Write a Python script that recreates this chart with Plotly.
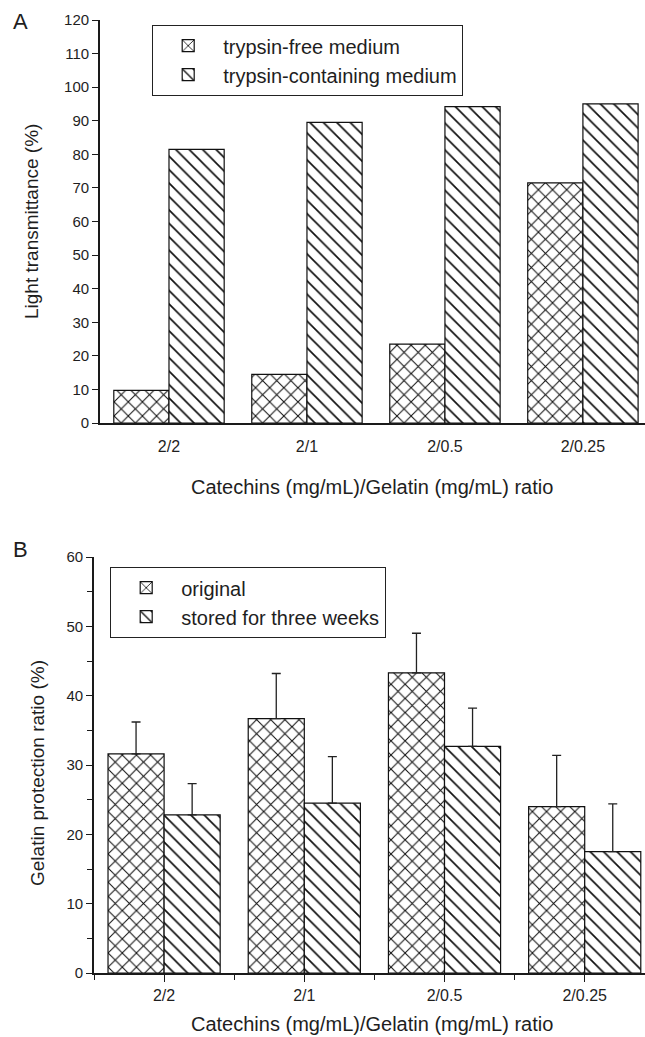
import plotly.graph_objects as go

categories = ["2/2", "2/1", "2/0.5", "2/0.25"]

# Panel A: light transmittance (%)
trypsin_free = [9.7, 14.5, 23.5, 71.5]
trypsin_containing = [81.5, 89.5, 94.2, 95.0]

# Panel B: gelatin protection ratio (%)
original = [31.6, 36.7, 43.3, 24.0]
original_err = [4.6, 6.5, 5.7, 7.4]
stored = [22.8, 24.5, 32.7, 17.5]
stored_err = [4.5, 6.7, 5.5, 6.9]

W, H = 645, 1037
FONT = "Liberation Sans, Arial, sans-serif"
TXT = "#1e1e1e"
xpos = list(range(len(categories)))

cross = dict(shape="x", size=10, solidity=0.2, fgcolor="#111", bgcolor="white", fillmode="replace")
diag = dict(shape="\\", size=9.5, solidity=0.18, fgcolor="#111", bgcolor="white", fillmode="replace")
line = dict(color="#111", width=1.2)

fig = go.Figure()

fig.add_trace(go.Bar(x=xpos, y=trypsin_free, name="trypsin-free medium",
                     marker=dict(color="white", pattern=cross, line=line),
                     xaxis="x", yaxis="y", legend="legend"))
fig.add_trace(go.Bar(x=xpos, y=trypsin_containing, name="trypsin-containing medium",
                     marker=dict(color="white", pattern=diag, line=line),
                     xaxis="x", yaxis="y", legend="legend"))

fig.add_trace(go.Bar(x=xpos, y=original, name="original",
                     marker=dict(color="white", pattern=cross, line=line),
                     error_y=dict(type="data", array=original_err, arrayminus=[0]*len(original),
                                  symmetric=False, color="#222", thickness=1.3, width=4.5),
                     xaxis="x2", yaxis="y2", legend="legend2"))
fig.add_trace(go.Bar(x=xpos, y=stored, name="stored for three weeks",
                     marker=dict(color="white", pattern=diag, line=line),
                     error_y=dict(type="data", array=stored_err, arrayminus=[0]*len(stored),
                                  symmetric=False, color="#222", thickness=1.3, width=4.5),
                     xaxis="x2", yaxis="y2", legend="legend2"))

tickfont = dict(family=FONT, size=15, color=TXT)
xtickfont = dict(family=FONT, size=16, color=TXT)
axline = dict(showline=True, linecolor="#1a1a1a", linewidth=1.8, showgrid=False, zeroline=False,
              ticks="outside", tickcolor="#1a1a1a", tickwidth=1.3, ticklen=6, tickfont=tickfont,
              automargin=False)

legfont = dict(family=FONT, size=20, color=TXT)

fig.update_layout(
    width=W, height=H,
    margin=dict(l=0, r=0, t=0, b=0),
    paper_bgcolor="white", plot_bgcolor="white",
    barmode="group", bargap=0.2, bargroupgap=0,
    font=dict(family=FONT, color=TXT),
    xaxis=dict(domain=[100/W, 1.0], anchor="y", range=[-0.5, 3.45],
               tickvals=xpos, ticktext=categories, ticklabelstandoff=8,
               **{**axline, "ticks": "", "tickfont": xtickfont}),
    yaxis=dict(domain=[1-423/H, 1-20/H], anchor="x", range=[0, 120], dtick=10, **axline),
    xaxis2=dict(domain=[94/W, 1.0], anchor="y2", range=[-0.5, 3.43],
                tickvals=xpos, ticktext=categories, ticklabelstandoff=0,
                minor=dict(tickvals=[-0.5, 0.5, 1.5, 2.5, 3.5], ticks="outside", ticklen=5,
                           tickcolor="#1a1a1a", tickwidth=1.3),
                **{**axline, "ticklen": 7, "tickfont": xtickfont}),
    yaxis2=dict(domain=[1-973/H, 1-557/H], anchor="x2", range=[0, 60], dtick=10,
                minor=dict(dtick=5, ticks="outside", ticklen=5, tickcolor="#1a1a1a", tickwidth=1.3),
                **axline),
    legend=dict(x=152/W, y=1-25/H, xanchor="left", yanchor="top",
                bordercolor="#222", borderwidth=1.2, bgcolor="white",
                font=legfont, tracegroupgap=0, itemwidth=60),
    legend2=dict(x=110/W, y=1-567/H, xanchor="left", yanchor="top",
                 bordercolor="#222", borderwidth=1.2, bgcolor="white",
                 font=legfont, tracegroupgap=0, itemwidth=60),
    annotations=[
        dict(text="A", x=20/W, y=1-22/H, xref="paper", yref="paper", showarrow=False,
             xanchor="center", yanchor="middle", font=dict(family=FONT, size=22, color=TXT)),
        dict(text="B", x=20/W, y=1-549/H, xref="paper", yref="paper", showarrow=False,
             xanchor="center", yanchor="middle", font=dict(family=FONT, size=22, color=TXT)),
        dict(text="Light transmittance (%)", x=31/W, y=1-222/H, xref="paper", yref="paper",
             showarrow=False, textangle=-90, xanchor="center", yanchor="middle",
             font=dict(family=FONT, size=19, color=TXT)),
        dict(text="Catechins (mg/mL)/Gelatin (mg/mL) ratio", x=372/W, y=1-487/H,
             xref="paper", yref="paper", showarrow=False, xanchor="center", yanchor="middle",
             font=dict(family=FONT, size=20, color=TXT)),
        dict(text="Gelatin protection ratio (%)", x=37/W, y=1-773/H, xref="paper", yref="paper",
             showarrow=False, textangle=-90, xanchor="center", yanchor="middle",
             font=dict(family=FONT, size=19, color=TXT)),
        dict(text="Catechins (mg/mL)/Gelatin (mg/mL) ratio", x=372/W, y=1-1024/H,
             xref="paper", yref="paper", showarrow=False, xanchor="center", yanchor="middle",
             font=dict(family=FONT, size=20, color=TXT)),
    ],
)

fig.write_html("out.html")
